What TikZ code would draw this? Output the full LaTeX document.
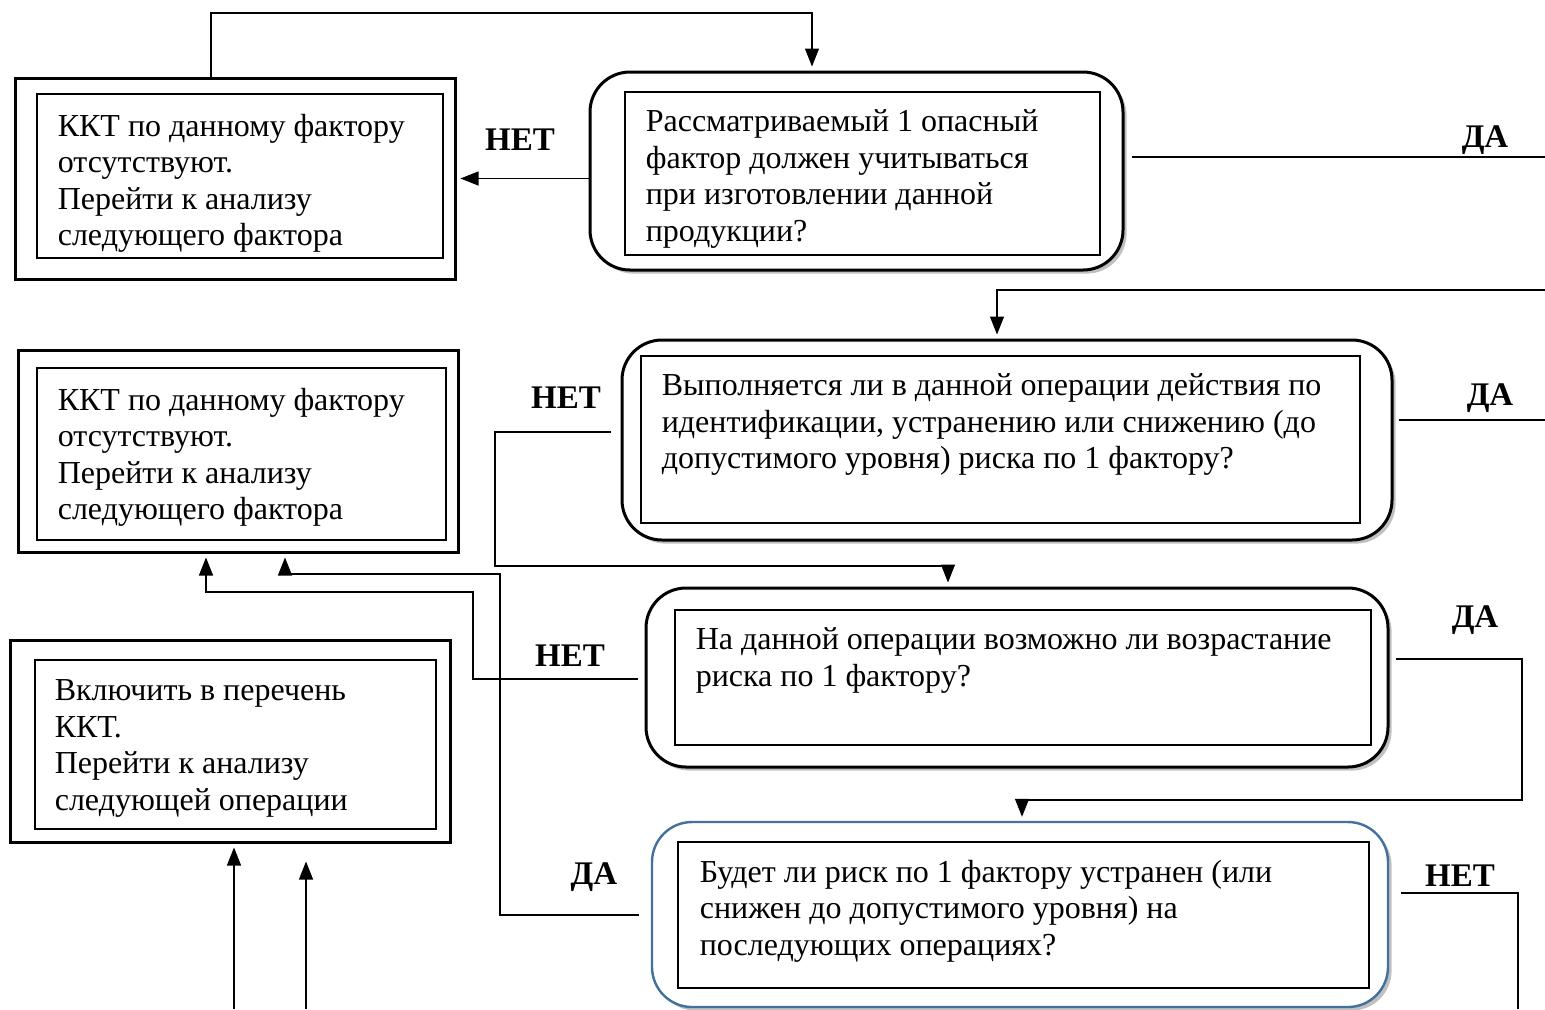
\documentclass[tikz,border=0pt]{standalone}
\usepackage{fontspec}
\setmainfont{Liberation Serif}
\usetikzlibrary{arrows.meta,shadows}
\definecolor{steel}{RGB}{65,113,156}

\begin{document}
\begin{tikzpicture}[x=0.5pt, y=-0.5pt,
  outer/.style={draw, line width=1.5pt, fill=white},
  dec/.style={draw, line width=1.5pt, rounded corners=20pt, fill=white,
    drop shadow={shadow xshift=1.8pt, shadow yshift=-1.8pt, fill=black!55, opacity=.45}},
  inner/.style={draw, line width=0.6pt},
  txt/.style={anchor=north west, inner sep=0pt, align=left, font=\fontsize{16}{18.25}\selectfont},
  lbl/.style={font=\fontsize{16.5}{20}\selectfont\bfseries},
  line/.style={line width=0.6pt},
  arr/.style={line width=0.6pt, -{Triangle[width=7pt,length=9pt]}, shorten >=2pt}]
\useasboundingbox (0,0) rectangle (1545,1009);

% left boxes
\node[outer, minimum width=220pt, minimum height=100.5pt] (l1) at (235,178.5) {};
\node[inner, minimum width=203pt, minimum height=82pt] (l1i) at (240,176) {};
\node[txt] (l1t) at ([shift={(10.5pt,-10pt)}]l1i.north west) {ККТ по данному фактору\\ отсутствуют.\\ Перейти к анализу\\ следующего фактора};

\node[outer, minimum width=220pt, minimum height=101pt] (l2) at (238,451) {};
\node[inner, minimum width=204.5pt, minimum height=86pt] (l2i) at (241.5,454) {};
\node[txt] (l2t) at ([shift={(10.5pt,-10pt)}]l2i.north west) {ККТ по данному фактору\\ отсутствуют.\\ Перейти к анализу\\ следующего фактора};

\node[outer, minimum width=220pt, minimum height=101pt] (l3) at (230,741) {};
\node[inner, minimum width=200.5pt, minimum height=84.5pt] (l3i) at (235.5,744.5) {};
\node[txt] (l3t) at ([shift={(10pt,-10pt)}]l3i.north west) {Включить в перечень\\ ККТ.\\ Перейти к анализу\\ следующей операции};

% decisions
\node[dec, minimum width=266.5pt, minimum height=99pt] (d1) at (856.5,171) {};
\node[inner, minimum width=237.5pt, minimum height=81.5pt] (d1i) at (862.5,173.5) {};
\node[txt] (d1t) at ([shift={(10.5pt,-9pt)}]d1i.north west) {Рассматриваемый 1 опасный\\ фактор должен учитываться\\ при изготовлении данной\\ продукции?};

\node[dec, minimum width=385pt, minimum height=100pt] (d2) at (1007,440) {};
\node[inner, minimum width=359.5pt, minimum height=83.5pt] (d2i) at (1000.5,439.5) {};
\node[txt] (d2t) at ([shift={(10.5pt,-9pt)}]d2i.north west) {Выполняется ли в данной операции действия по\\ идентификации, устранению или снижению (до\\ допустимого уровня) риска по 1 фактору?};

\node[dec, minimum width=371pt, minimum height=89.5pt] (d3) at (1017,677.5) {};
\node[inner, minimum width=348pt, minimum height=67.5pt] (d3i) at (1023,677.5) {};
\node[txt] (d3t) at ([shift={(10.5pt,-9pt)}]d3i.north west) {На данной операции возможно ли возрастание\\ риска по 1 фактору?};

\node[dec, draw=steel, line width=1.2pt, minimum width=368pt, minimum height=92.5pt] (d4) at (1020,914.5) {};
\node[inner, minimum width=345.5pt, minimum height=73pt] (d4i) at (1023.5,915) {};
\node[txt] (d4t) at ([shift={(11pt,-9pt)}]d4i.north west) {Будет ли риск по 1 фактору устранен (или\\ снижен до допустимого уровня) на\\ последующих операциях?};

% bends and free ends
\coordinate (t1) at (211,13);
\coordinate (t2) at (812,13);
\coordinate (r1) at (1545,157);
\coordinate (r2) at (1545,290);
\coordinate (b2) at (997,290);
\coordinate (r3) at (1545,420);
\coordinate (k1) at (495,432);
\coordinate (k2) at (948,566);
\coordinate (k3) at (473,679);
\coordinate (k4) at (206,592);
\coordinate (k5) at (500,915);
\coordinate (k6) at (285,574);
\coordinate (k7) at (1522,659);
\coordinate (k8) at (1022,800);
\coordinate (k9) at (1518,893);
\coordinate (k10) at (1518,1009);
\coordinate (u1) at (234,1009);
\coordinate (u2) at (306,1009);

\draw[arr] (l1.north -| t1) |- (t2) -- (t2 |- d1.north);
\draw[arr] (d1.west |- l1.east) -- (l1.east);
\draw[line] ([xshift=3.5pt]d1.east |- r1) -- (r1);
\draw[arr] (r2) -- (b2) -- (b2 |- d2.north);
\draw[line] ([xshift=2.5pt]d2.east |- r3) -- (r3);
\draw[arr] ([xshift=-5pt]d2.west |- k1) -- (k1) |- (k2) -- (k2 |- d3.north);
\draw[arr] ([xshift=-3.5pt]d3.west |- k3) -- (k3) |- (k4) -- (k4 |- l2.south);
\draw[arr] ([xshift=-6pt]d4.west |- k5) -- (k5) |- (k6) -- (k6 |- l2.south);
\draw[arr] ([xshift=3pt]d3.east |- k7) -- (k7) |- (k8) -- (k8 |- d4.north);
\draw[line] ([xshift=6pt]d4.east |- k9) -- (k9) -- (k10);
\draw[arr] (u1) -- (u1 |- l3.south);
\draw[arr, shorten >=9pt] (u2) -- (u2 |- l3.south);

% answers
\node[lbl] (n1) at (520,140) {НЕТ};
\node[lbl] (n2) at (566,398) {НЕТ};
\node[lbl] (n3) at (570,656) {НЕТ};
\node[lbl] (n4) at (1460,876) {НЕТ};
\node[lbl] (y1) at (1485,140) {ДА};
\node[lbl] (y2) at (1490,398) {ДА};
\node[lbl] (y3) at (1475,620) {ДА};
\node[lbl] (y4) at (594,877) {ДА};
\end{tikzpicture}
\end{document}
